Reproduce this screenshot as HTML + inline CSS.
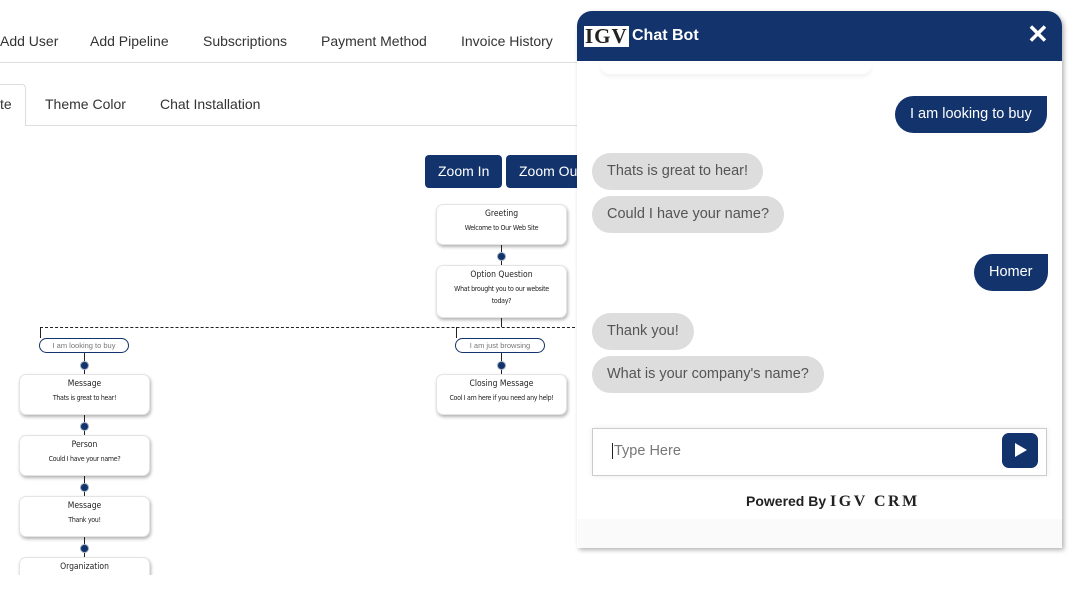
<!DOCTYPE html>
<html><head><meta charset="utf-8"><style>
*{margin:0;padding:0;box-sizing:border-box}
body{width:1072px;height:600px;background:#fff;position:relative;overflow:hidden;font-family:"Liberation Sans",sans-serif;color:#333}
.a{position:absolute;white-space:nowrap}
.nav{top:33px;font-size:14px;color:#333}
.tab{top:96px;font-size:14px;color:#333}
.btn{position:absolute;top:155px;height:33px;background:#12336b;color:#fff;font-size:14px;border-radius:4px;line-height:33px;padding-left:13px}
.node{position:absolute;width:131px;background:#fff;border-radius:7px;box-shadow:1px 2px 3px rgba(0,0,0,.3);border:1px solid #e4e4e4;text-align:center;font-size:8px;color:#222;font-family:"DejaVu Sans Condensed","DejaVu Sans",sans-serif}
.node b{display:block;font-weight:normal;font-size:8.5px;margin-top:4px;margin-bottom:3px;color:#222}
.node span{letter-spacing:-.3px;font-size:7px;line-height:12px}
.dot{position:absolute;width:9px;height:9px;border-radius:50%;background:#12336b;border:1.5px solid #9ab}
.vl{position:absolute;width:1px;background:#222}
.pill{position:absolute;height:15px;width:90px;border:1px solid #12336b;border-radius:8px;font-size:7.5px;color:#777;text-align:center;line-height:13px}
.bot{position:absolute;left:592px;height:37px;background:#ddd;border-radius:19px;font-size:14.5px;color:#555;line-height:37px;padding:0 15px}
.me{position:absolute;height:37px;background:#12336b;border-radius:19px 0 19px 19px;font-size:14.5px;color:#fff;line-height:37px;padding:0 15px}
</style></head><body>
<div class="a nav" style="left:0">Add User</div>
<div class="a nav" style="left:90px">Add Pipeline</div>
<div class="a nav" style="left:203px">Subscriptions</div>
<div class="a nav" style="left:321px">Payment Method</div>
<div class="a nav" style="left:461px">Invoice History</div>
<div class="a" style="left:0;top:62px;width:580px;height:1px;background:#ddd"></div>
<div class="a" style="left:-5px;top:84px;width:31px;height:42px;border:1px solid #ddd;border-bottom:none;border-radius:4px 4px 0 0;background:#fff"></div>
<div class="a tab" style="left:0">te</div>
<div class="a tab" style="left:45px">Theme Color</div>
<div class="a tab" style="left:160px">Chat Installation</div>
<div class="a" style="left:26px;top:125px;width:554px;height:1px;background:#ddd"></div>
<div class="btn" style="left:425px;width:77px">Zoom In</div>
<div class="btn" style="left:506px;width:80px">Zoom Out</div>

<div class="node" style="left:436px;top:204px;height:41px"><b>Greeting</b><span>Welcome to Our Web Site</span></div>
<div class="vl" style="left:501px;top:245px;height:20px"></div><div class="dot" style="left:497px;top:252px"></div>
<div class="node" style="left:436px;top:265px;height:53px"><b>Option Question</b><span>What brought you to our website<br>today?</span></div>
<div class="vl" style="left:501px;top:318px;height:9px"></div>
<div class="a" style="left:40px;top:327px;width:540px;border-top:1px dashed #222"></div>
<div class="vl" style="left:40px;top:327px;height:11px"></div>
<div class="vl" style="left:456px;top:327px;height:11px"></div>
<div class="pill" style="left:39px;top:338px">I am looking to buy</div>
<div class="pill" style="left:455px;top:338px">I am just browsing</div>
<div class="vl" style="left:84px;top:353px;height:21px"></div><div class="dot" style="left:80px;top:361px"></div>
<div class="vl" style="left:501px;top:353px;height:21px"></div><div class="dot" style="left:497px;top:361px"></div>
<div class="node" style="left:19px;top:374px;height:41px"><b>Message</b><span>Thats is great to hear!</span></div>
<div class="node" style="left:436px;top:374px;height:41px"><b>Closing Message</b><span>Cool I am here if you need any help!</span></div>
<div class="vl" style="left:84px;top:415px;height:20px"></div><div class="dot" style="left:80px;top:422px"></div>
<div class="node" style="left:19px;top:435px;height:41px"><b>Person</b><span>Could I have your name?</span></div>
<div class="vl" style="left:84px;top:476px;height:20px"></div><div class="dot" style="left:80px;top:483px"></div>
<div class="node" style="left:19px;top:496px;height:41px"><b>Message</b><span>Thank you!</span></div>
<div class="vl" style="left:84px;top:537px;height:20px"></div><div class="dot" style="left:80px;top:544px"></div>
<div class="node" style="left:19px;top:557px;height:41px"><b>Organization</b></div>
<div class="a" style="left:0;top:575px;width:576px;height:25px;background:#fff"></div>

<div class="a" style="left:577px;top:11px;width:485px;height:537px;background:#fff;border-radius:15px 15px 0 0;box-shadow:2px 2px 5px rgba(0,0,0,.3)"></div>
<div class="a" style="left:577px;top:11px;width:485px;height:50px;background:#12336b;border-radius:15px 15px 0 0"></div>
<div class="a" style="left:584px;top:26px;height:21px;background:#fff;color:#222;font-family:'Liberation Serif',serif;font-weight:bold;font-size:21px;line-height:21px;padding:0 1px;letter-spacing:1px">IGV</div>
<div class="a" style="left:632px;top:27px;color:#fff;font-weight:bold;font-size:16px">Chat Bot</div>
<div class="a" style="left:1027px;top:19px;color:#fff;font-weight:bold;font-size:26px">✕</div>
<div class="a" style="left:600px;top:64px;width:272px;height:10px;box-shadow:0 3px 4px rgba(0,0,0,.05);border-radius:0 0 10px 10px"></div>
<div class="me" style="left:895px;top:96px">I am looking to buy</div>
<div class="bot" style="top:153px">Thats is great to hear!</div>
<div class="bot" style="top:196px">Could I have your name?</div>
<div class="me" style="left:974px;top:254px">Homer</div>
<div class="bot" style="top:313px">Thank you!</div>
<div class="bot" style="top:356px">What is your company's name?</div>
<div class="a" style="left:592px;top:428px;width:455px;height:48px;border:1px solid #ccc;background:#fff;box-shadow:0 0 6px rgba(0,0,0,.08)"></div>
<div class="a" style="left:612px;top:443px;font-size:14.5px;color:#777;border-left:1px solid #222;padding-left:1px">Type Here</div>
<div class="a" style="left:1002px;top:433px;width:36px;height:35px;background:#12336b;border-radius:7px"></div>
<div class="a" style="left:1015px;top:443px;width:0;height:0;border-left:12px solid #fff;border-top:7px solid transparent;border-bottom:7px solid transparent"></div>
<div class="a" style="left:746px;top:493px;font-size:14px;font-weight:bold;color:#222">Powered By <span style="font-family:'Liberation Serif',serif;font-size:16px;letter-spacing:2.5px">IGV CRM</span></div>
<div class="a" style="left:578px;top:519px;width:484px;height:29px;background:#fafafa"></div>
</body></html>
